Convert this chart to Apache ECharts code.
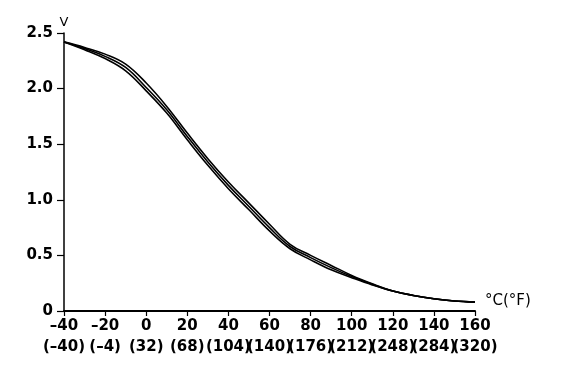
<!DOCTYPE html>
<html>
<head>
<meta charset="utf-8">
<script src="https://cdn.jsdelivr.net/npm/echarts@6/dist/echarts.min.js"></script>
<style>html,body{margin:0;padding:0;background:#fff}#c{width:576px;height:386px}</style>
</head>
<body>
<div id="c"></div>
<script>
const temps = [-40,-30,-20,-10,0,10,20,30,40,50,60,70,80,90,100,110,120,130,140,150,160];
const curveUpper = [2.42,2.37,2.31,2.22,2.05,1.84,1.60,1.37,1.16,0.97,0.78,0.60,0.50,0.41,0.32,0.245,0.18,0.14,0.11,0.09,0.08];
const curveMid   = [2.42,2.36,2.29,2.19,2.01,1.81,1.57,1.34,1.13,0.94,0.75,0.58,0.48,0.39,0.31,0.24,0.18,0.14,0.11,0.09,0.08];
const curveLower = [2.42,2.35,2.27,2.16,1.98,1.78,1.54,1.31,1.10,0.91,0.72,0.56,0.46,0.37,0.30,0.235,0.18,0.14,0.11,0.09,0.08];
const cTicks = ['–40','–20','0','20','40','60','80','100','120','140','160'];
const fTicks = ['(–40)','(–4)','(32)','(68)','(104)','(140)','(176)','(212)','(248)','(284)','(320)'];
const yTicks = ['0','0.5','1.0','1.5','2.0','2.5'];

const font = 'DejaVu Sans';
const chart = echarts.init(document.getElementById('c'), null, {renderer:'canvas'});
function mk(vals){ return temps.map((t,i)=>[t, vals[i]]); }
const lineStyle = {color:'#000', width:1.6};
chart.setOption({
  animation:false,
  backgroundColor:'#fff',
  grid:{left:64, right:101, top:33, bottom:75, containLabel:false},
  xAxis:[{
    type:'value', min:-40, max:160, interval:20,
    name:'°C(°F)', nameLocation:'end', nameGap:10,
    nameTextStyle:{fontFamily:font, fontSize:15, color:'#000', verticalAlign:'bottom', padding:[0,0,2,0]},
    axisLine:{show:true, onZero:false, lineStyle:{color:'#000', width:2}},
    axisTick:{show:true, length:5, lineStyle:{color:'#000', width:1.2}},
    splitLine:{show:false},
    axisLabel:{
      margin:8, color:'#000', fontFamily:font, fontWeight:'bold', fontSize:15,
      showMinLabel:true, showMaxLabel:true,
      formatter:function(v){ return cTicks[Math.round((v+40)/20)]; }
    }
  },{
    type:'category', data:fTicks, boundaryGap:false, position:'bottom',
    axisLine:{show:false}, axisTick:{show:false}, splitLine:{show:false},
    axisLabel:{interval:0, margin:29, color:'#000', fontFamily:font, fontWeight:'bold', fontSize:15}
  }],
  yAxis:{
    type:'value', min:0, max:2.5, interval:0.5,
    name:'V', nameLocation:'end', nameGap:4,
    nameTextStyle:{fontFamily:font, fontSize:13, color:'#000', align:'center'},
    axisLine:{show:true, onZero:false, lineStyle:{color:'#000', width:1.5}},
    axisTick:{show:true, length:7, lineStyle:{color:'#000', width:1.2}},
    splitLine:{show:false},
    axisLabel:{
      margin:11, color:'#000', fontFamily:font, fontWeight:'bold', fontSize:15,
      showMinLabel:true, showMaxLabel:true,
      formatter:function(v){ return yTicks[Math.round(v/0.5)]; }
    }
  },
  series:[
    {type:'line', xAxisIndex:0, data:mk(curveUpper), smooth:0.4, symbol:'none', lineStyle:lineStyle},
    {type:'line', xAxisIndex:0, data:mk(curveMid), smooth:0.4, symbol:'none', lineStyle:lineStyle},
    {type:'line', xAxisIndex:0, data:mk(curveLower), smooth:0.4, symbol:'none', lineStyle:lineStyle}
  ]
});
</script>
</body>
</html>
